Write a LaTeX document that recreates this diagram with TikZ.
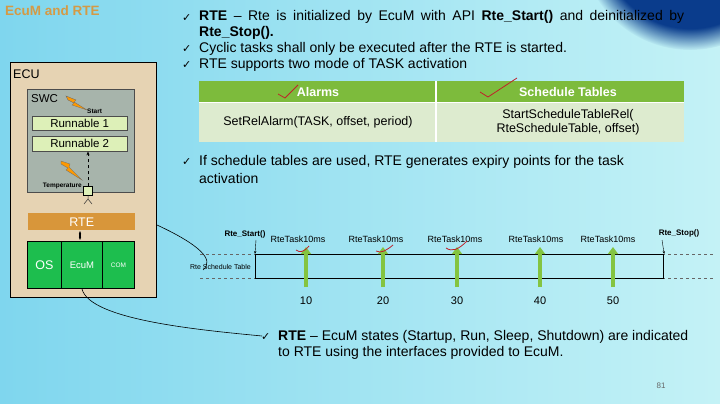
\documentclass[tikz,border=0pt]{standalone}
\usepackage{fontspec}
\setmainfont{Liberation Sans}
\newfontfamily\dejavu{DejaVu Sans}
\usetikzlibrary{arrows.meta,fadings}
\definecolor{bgA}{HTML}{7FD6EE}
\definecolor{bgB}{HTML}{C4F2F6}
\definecolor{ttl}{HTML}{D49A45}
\definecolor{tan}{HTML}{E6D3B3}
\definecolor{swcg}{HTML}{A7B4AB}
\definecolor{rung}{HTML}{DDF0B8}
\definecolor{rteo}{HTML}{D8963A}
\definecolor{osg}{HTML}{1DBE4E}
\definecolor{thead}{HTML}{7DBB3C}
\definecolor{tbody}{HTML}{DDEBCF}
\definecolor{arrg}{HTML}{84C441}
\definecolor{chk}{HTML}{C0202A}
\definecolor{dblue}{HTML}{0A3C8C}
\newcommand{\ck}{{\dejavu\fontsize{11}{12}\selectfont ✓}}
\begin{document}
\begin{tikzpicture}[x=1pt,y=-1pt,
  body/.style={font=\fontsize{14}{15.5}\selectfont,anchor=west,inner sep=0pt},
  bpar/.style={font=\fontsize{14}{15.5}\selectfont,anchor=north west,inner sep=0pt,text width=485pt,align=justify},
  cks/.style={anchor=west,inner sep=0pt},
  small/.style={font=\fontsize{8}{10}\selectfont,inner sep=0pt},
  tiny/.style={font=\bfseries\fontsize{6.5}{7}\selectfont,inner sep=0pt},
  garrow/.style={draw=arrg,line width=3.5pt,-{Triangle[length=7pt,width=10pt]}},
  redchk/.style={draw=chk,line width=0.8pt},
  bolt/.style={fill=orange!80!yellow,draw=black!60,line width=0.3pt}]
\useasboundingbox (0,0) rectangle (720,404);
\shade[left color=bgA,right color=bgB] (0,0) rectangle (720,404);
\fill[dblue,path fading=circle with fuzzy edge 20 percent] (690,-60) circle (110);
% title
\node[anchor=west,text=ttl,font=\bfseries\fontsize{13.5}{15}\selectfont,inner sep=0pt] (title) at (5,11) {EcuM and RTE};
% ECU
\node[draw=black,line width=1pt,fill=tan,minimum width=146pt,minimum height=235pt,anchor=north west] (ecu) at (10,62) {};
\node[anchor=west,inner sep=0pt,font=\fontsize{12.5}{14}\selectfont] (ecul) at (13,74) {ECU};
\node[draw=black!70,fill=swcg,minimum width=107pt,minimum height=103pt,anchor=north west] (swc) at (27,89) {};
\node[anchor=west,inner sep=0pt,font=\fontsize{11.5}{13}\selectfont] (swcl) at (31,99) {SWC};
\node[draw=black!70,fill=rung,minimum width=95pt,minimum height=14pt,anchor=north west,inner sep=0pt,font=\fontsize{11.5}{13}\selectfont] (r1) at (32,116) {Runnable 1};
\node[draw=black!70,fill=rung,minimum width=95pt,minimum height=15pt,anchor=north west,inner sep=0pt,font=\fontsize{11.5}{13}\selectfont] (r2) at (32,136) {Runnable 2};
\node[tiny,anchor=west] (st) at (87,111) {Start};
\node[tiny,anchor=east] (temp) at (82,186) {Temperature};
\path[bolt] (66,96) -- (76,100) -- (74,102) -- (87,110) -- (72,105) -- (74,103) -- (68,100) -- cycle;
\path[bolt] (61,161) -- (70,164) -- (69,167) -- (82,180) -- (66,170) -- (68,168) -- (61,164) -- cycle;
\node[draw=black,fill=rung,minimum size=9pt,inner sep=0pt] (port) at (88,191) {};
\draw[black,line width=1pt,dashed,-{Stealth[length=4pt]}] (port.north) -- (r2.south -| port);
\draw[black!80,line width=0.5pt] (port.south) -- (88,199) -- (84,204) (88,199) -- (92,204);
\node[fill=rteo,minimum width=107pt,minimum height=17pt,anchor=north west,inner sep=0pt,text=white,font=\fontsize{12.5}{14}\selectfont] (rte) at (28,213) {RTE};
\node[draw=black,line width=0.8pt,fill=osg,minimum width=34pt,minimum height=47pt,anchor=north west,inner sep=0pt,text=white,font=\fontsize{12.5}{14}\selectfont] (os) at (27,241) {OS};
\node[draw=black,line width=0.8pt,fill=osg,minimum width=41pt,minimum height=47pt,anchor=north west,inner sep=0pt,text=white,font=\fontsize{9.5}{11}\selectfont] (ecum) at (61,241) {EcuM};
\node[draw=black,line width=0.8pt,fill=osg,minimum width=32pt,minimum height=47pt,anchor=north west,inner sep=0pt,text=white,font=\fontsize{6.5}{8}\selectfont] (com) at (102,241) {COM};
\draw[black,line width=1.6pt,{Stealth[length=3pt]}-{Stealth[length=3pt]}] (80,231) -- (80,240);
% bullets
\node[cks] (k1) at (182,18) {\ck};
\node[bpar] (b1) at (199,10.5) {\textbf{RTE} – Rte is initialized by EcuM with API \textbf{Rte\_Start()} and deinitialized by \textbf{Rte\_Stop().}};
\node[cks] (k2) at (182,49) {\ck};
\node[body] (b2) at (199,49) {Cyclic tasks shall only be executed after the RTE is started.};
\node[cks] (k3) at (182,65) {\ck};
\node[body] (b3) at (199,65) {RTE supports two mode of TASK activation};
% table
\fill[thead] (199,81) rectangle (684,102);
\fill[tbody] (199,103) rectangle (684,142);
\draw[white,line width=1.2pt] (199,102.5) -- (684,102.5) (436,81) -- (436,142);
\node[text=white,font=\bfseries\fontsize{12.5}{14}\selectfont] (h1) at (318,92) {Alarms};
\node[text=white,font=\bfseries\fontsize{12.5}{14}\selectfont] (h2) at (568,92) {Schedule Tables};
\node[font=\fontsize{12.5}{14}\selectfont] (c1) at (318,122) {SetRelAlarm(TASK, offset, period)};
\node[font=\fontsize{12.5}{14}\selectfont,align=center] (c2) at (568,122) {StartScheduleTableRel(\\RteScheduleTable, offset)};
\draw[redchk] (278,94) -- (285,98) -- (298,85);
\draw[redchk] (480,92) -- (488,97) -- (517,78);
\node[cks] (k4) at (182,162) {\ck};
\node[body] (b4) at (199,162) {If schedule tables are used, RTE generates expiry points for the task};
\node[body] (b4b) at (199,178) {activation};
% schedule
\draw[black!60,dashed,line width=0.4pt] (200,254) -- (715,254) (200,278) -- (715,278);
\node[draw=black,line width=1.2pt,minimum width=408pt,minimum height=24pt,anchor=north west,inner sep=0pt] (sched) at (255,254) {};
\node[small,anchor=east,font=\fontsize{7}{9}\selectfont] (stl) at (251,267) {Rte Schedule Table};
\node[tiny,font=\bfseries\fontsize{8}{9}\selectfont] (rs) at (245,234) {Rte\_Start()};
\node[tiny,font=\bfseries\fontsize{8}{9}\selectfont] (rp) at (679,233) {Rte\_Stop()};
\draw[-{Stealth[length=3pt]},line width=0.4pt] (256,240) -- (sched.north west);
\draw[-{Stealth[length=3pt]},line width=0.4pt] (662,240) -- (sched.north east);
\foreach \x/\n [count=\i] in {306/10,383/20,457/30,540/40,613/50}{
  \coordinate (ab\i) at (\x,287);
  \coordinate (at\i) at (\x,247);
  \draw[garrow] (ab\i) -- (at\i);
  \node[font=\fontsize{11}{13}\selectfont] (n\i) at (\x,301) {\n};
}
\foreach \x [count=\i] in {298,376,455,536,608}{
  \node[small,font=\fontsize{9}{11}\selectfont] (t\i) at (\x,239) {RteTask10ms};
}
\draw[redchk] (296,250) .. controls (300,253) and (304,252) .. (309,246);
\draw[redchk] (376,251) .. controls (381,254) and (387,250) .. (393,245);
\draw[redchk] (446,248) .. controls (452,252) and (458,250) .. (467,241);
% curves
\draw[black,line width=0.6pt] (ecu.east |- 0,225) .. controls (200,245) and (215,260) .. (203,270);
\draw[black,line width=0.6pt] (82,289) .. controls (90,320) and (200,330) .. (262,336);
\node[cks] (k5) at (261,337) {\ck};
\node[body] (b5) at (278,337) {\textbf{RTE} – EcuM states (Startup, Run, Sleep, Shutdown) are indicated};
\node[body] (b5b) at (278,353) {to RTE using the interfaces provided to EcuM.};
\node[small,text=black!60] (pg) at (661,386) {81};
\end{tikzpicture}
\end{document}
